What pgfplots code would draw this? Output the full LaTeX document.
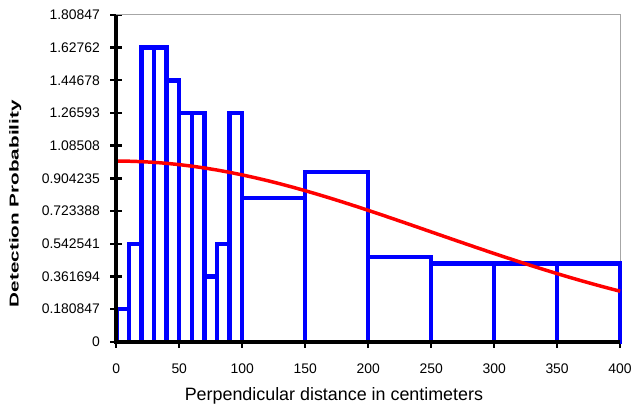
\documentclass[border=0pt]{standalone}
\usepackage{fontspec}
\setmainfont{Liberation Sans}
\usepackage{pgfplots}
\pgfplotsset{compat=1.18}
\newcommand{\tl}[1]{\mbox{\fontsize{14bp}{16bp}\selectfont #1}}
\begin{document}
\begin{tikzpicture}
\begin{axis}[
  scale only axis,
  width=507bp, height=329bp,
  xmin=0, xmax=400, ymin=0, ymax=1.80847,
  xtick={0,50,100,150,200,250,300,350,400},
  xticklabels={\tl{0},\tl{50},\tl{100},\tl{150},\tl{200},\tl{250},\tl{300},\tl{350},\tl{400}},
  ytick={0,0.180847,0.361694,0.542541,0.723388,0.904235,1.08508,1.26593,1.44678,1.62762,1.80847},
  yticklabels={\tl{0},\tl{0.180847},\tl{0.361694},\tl{0.542541},\tl{0.723388},\tl{0.904235},\tl{1.08508},\tl{1.26593},\tl{1.44678},\tl{1.62762},\tl{1.80847}},
  xtick pos=bottom, ytick pos=left,
  tick align=center,
  major tick length=12bp,
  tick style={black, line width=2.4pt},
  axis line style={gray!70, line width=1pt},
  tick label style={font=\fontsize{14bp}{16bp}\selectfont},
  xticklabel style={yshift=-13bp},
  yticklabel style={xshift=-7bp},
  xlabel={\fontsize{18bp}{20bp}\selectfont Perpendicular distance in centimeters},
  ylabel={\fontsize{13bp}{15bp}\selectfont\scalebox{1.6}[1]{\bfseries Detection Probability}},
  xlabel style={at={(rel axis cs:0.432,-0.166)}, anchor=center},
  ylabel style={at={(rel axis cs:-0.2002,0.4225)}, anchor=center},
  clip=false,
]
\addplot[ybar interval, draw={rgb,255:red,0;green,0;blue,255}, fill=none, line width=4.5bp] coordinates {
 (0,0.180847) (10,0.542541) (20,1.62762) (30,1.62762) (40,1.44678)
 (50,1.26593) (60,1.26593) (70,0.361694) (80,0.542541) (90,1.26593)
 (100,0.7957) (150,0.9404) (200,0.4702) (250,0.4340) (300,0.4340)
 (350,0.4340) (400,0.4340)
};
\addplot[red, line width=3.5bp, mark=none] coordinates {
 (0,1.0000) (10,0.9992) (20,0.9968) (30,0.9929) (40,0.9874) (50,0.9803)
 (60,0.9718) (70,0.9618) (80,0.9504) (90,0.9376) (100,0.9235) (110,0.9082)
 (120,0.8918) (130,0.8742) (140,0.8556) (150,0.8361) (160,0.8157) (170,0.7946)
 (180,0.7728) (190,0.7504) (200,0.7274) (210,0.7041) (220,0.6804) (230,0.6565)
 (240,0.6324) (250,0.6082) (260,0.5840) (270,0.5599) (280,0.5360) (290,0.5122)
 (300,0.4887) (310,0.4656) (320,0.4428) (330,0.4205) (340,0.3987) (350,0.3774)
 (360,0.3566) (370,0.3365) (380,0.3170) (390,0.2982) (400,0.2800)
};
\draw[black, line width=4bp] (rel axis cs:0,1) -- (rel axis cs:0,0) -- (rel axis cs:1,0);
\path[use as bounding box] (rel axis cs:-0.23077,-0.20669) rectangle (rel axis cs:1.02170,1.04559);
\end{axis}
\end{tikzpicture}
\end{document}
